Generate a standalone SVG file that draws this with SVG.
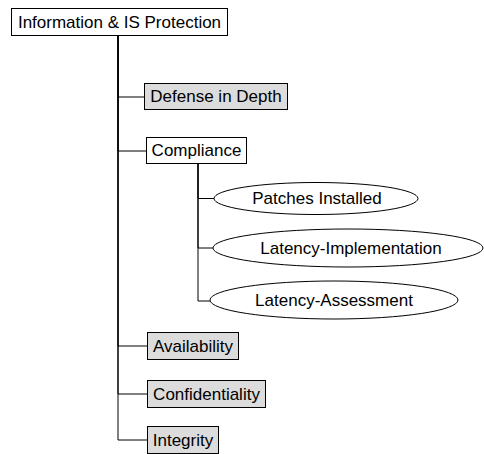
<svg xmlns="http://www.w3.org/2000/svg" width="484" height="454" viewBox="0 0 484 454">
<style>
.box{fill:#fff;stroke:#000;stroke-width:1}
.gray{fill:#dcdcdc}
.ell{fill:#fff;stroke:#000;stroke-width:1}
.lbl{font-family:"Liberation Sans",Arial,sans-serif;font-size:17px;fill:#000;text-anchor:middle;dominant-baseline:central}
.con{fill:none;stroke:#000;stroke-width:1}
</style>
<rect width="484" height="454" fill="#fff"/>
<g id="connectors">
<path class="con" d="M118 35.5V97H144.5"/>
<path class="con" d="M118 35.5V151H146.5"/>
<path class="con" d="M118 35.5V346H147.5"/>
<path class="con" d="M118 35.5V394H147.5"/>
<path class="con" d="M118 35.5V440H147.5"/>
<path class="con" d="M198 163.5V198.5H214"/>
<path class="con" d="M198 163.5V248H213"/>
<path class="con" d="M198 163.5V301H210"/>
</g>
<g id="root"><rect class="box" x="11.5" y="8.5" width="216" height="27"/><text class="lbl" x="119.5" y="22">Information &amp; IS Protection</text></g>
<g id="defense"><rect class="box gray" x="144.5" y="83.5" width="143" height="26"/><text class="lbl" x="216" y="96.5">Defense in Depth</text></g>
<g id="compliance"><rect class="box" x="146.5" y="137.5" width="100" height="26"/><text class="lbl" x="196.5" y="150.5">Compliance</text></g>
<g id="patches"><ellipse class="ell" cx="316" cy="198.5" rx="102" ry="16"/><text class="lbl" x="317" y="198.5">Patches Installed</text></g>
<g id="latimpl"><ellipse class="ell" cx="348" cy="248" rx="135" ry="19"/><text class="lbl" x="351" y="248">Latency-Implementation</text></g>
<g id="latassess"><ellipse class="ell" cx="334" cy="300" rx="124" ry="19"/><text class="lbl" x="334" y="300">Latency-Assessment</text></g>
<g id="availability"><rect class="box gray" x="147.5" y="332.5" width="91" height="27"/><text class="lbl" x="193" y="346">Availability</text></g>
<g id="confidentiality"><rect class="box gray" x="147.5" y="380.5" width="118" height="27"/><text class="lbl" x="206.5" y="394">Confidentiality</text></g>
<g id="integrity"><rect class="box gray" x="147.5" y="426.5" width="71" height="27"/><text class="lbl" x="183" y="440">Integrity</text></g>
</svg>
